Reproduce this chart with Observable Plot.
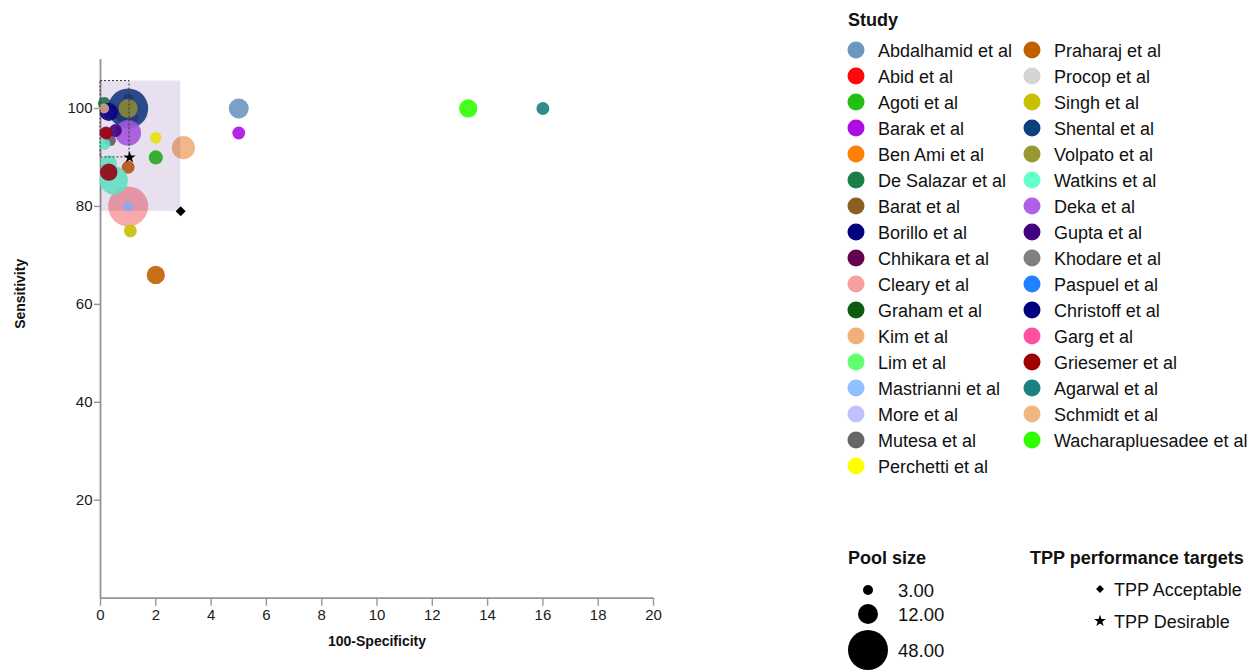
<!DOCTYPE html>
<html>
<head>
<meta charset="utf-8">
<script src="https://cdn.jsdelivr.net/npm/d3@7"></script>
<script src="https://cdn.jsdelivr.net/npm/@observablehq/plot@0.6"></script>
<style>
  body { margin: 0; background: #fff; font-family: "Liberation Sans", Arial, sans-serif; }
  #wrap { position: relative; width: 1259px; height: 671px; overflow: hidden; background: #fff; }
  #chart { position: absolute; left: 0; top: 0; }
  #legend { position: absolute; left: 0; top: 0; pointer-events: none; }
</style>
</head>
<body>
<div id="wrap"><div id="chart"></div><svg id="legend" width="1259" height="671"></svg></div>
<script>
// ---------- Data ----------
const studies = [
  "Abdalhamid et al", "Abid et al", "Agoti et al", "Barak et al", "Ben Ami et al",
  "De Salazar et al", "Barat et al", "Borillo et al", "Chhikara et al", "Cleary et al",
  "Graham et al", "Kim et al", "Lim et al", "Mastrianni et al", "More et al",
  "Mutesa et al", "Perchetti et al", "Praharaj et al", "Procop et al", "Singh et al",
  "Shental et al", "Volpato et al", "Watkins et al", "Deka et al", "Gupta et al",
  "Khodare et al", "Paspuel et al", "Christoff et al", "Garg et al", "Griesemer et al",
  "Agarwal et al", "Schmidt et al", "Wacharapluesadee et al"
];
const studyColors = [
  "#6a96c0", "#ff0a0a", "#22c010", "#ac0ee2", "#ff8000",
  "#1a8048", "#8c6020", "#000080", "#660050", "#f8a0a0",
  "#0e5a0e", "#f0b078", "#60ff70", "#90c0ff", "#c0c0ff",
  "#666666", "#ffff00", "#c06000", "#d4d4d4", "#c8c000",
  "#0e4080", "#989830", "#66ffcc", "#b060e8", "#400080",
  "#808080", "#2080ff", "#000080", "#ff50a0", "#a00000",
  "#1a8080", "#f0b880", "#30ff00"
];

// one entry per plotted study result (100-specificity, sensitivity, pool size)
const pointStudy = [
  "Abdalhamid et al", "Abid et al", "Agoti et al", "Barak et al", "Ben Ami et al",
  "De Salazar et al", "Barat et al", "Borillo et al", "Chhikara et al", "Cleary et al",
  "Graham et al", "Kim et al", "Lim et al", "Mastrianni et al", "More et al",
  "Mutesa et al", "Perchetti et al", "Praharaj et al", "Praharaj et al", "Procop et al",
  "Singh et al", "Shental et al", "Volpato et al", "Watkins et al", "Watkins et al",
  "Watkins et al", "Deka et al", "Gupta et al", "Khodare et al", "Paspuel et al",
  "Christoff et al", "Garg et al", "Griesemer et al", "Griesemer et al", "Agarwal et al",
  "Schmidt et al", "Wacharapluesadee et al"
];
const pointFPR = [
  5, 1, 2, 5, 0.7,
  0.14, 1.2, 0.6, 1, 1,
  0.8, 3, 1.3, 1, 0.9,
  0.35, 2, 1, 2, 1.1,
  1.08, 1, 1, 0.15, 0.3,
  0.48, 1, 0.54, 0.3, 0.25,
  0.3, 0.2, 0.2, 0.3, 16,
  0.13, 13.3
];
const pointSens = [
  100, 100, 90, 95, 100,
  101, 98, 99, 102, 80,
  98, 92, 100, 80, 101,
  93.5, 94, 88, 66, 99,
  75, 100, 100, 92.7, 88.8,
  85.3, 95, 95.5, 99, 99.5,
  99.3, 95, 95, 87, 100,
  100, 100
];
const pointPool = [
  12, 3, 6, 5, 3,
  5, 3, 4, 3, 48,
  3, 16, 3, 3, 3,
  4, 4, 5, 10, 3,
  5, 48, 11, 4, 8,
  24, 20, 5, 3, 3,
  10, 3, 5, 9, 5,
  3, 10
];

// TPP performance targets (100-specificity, sensitivity)
const tppLabels = ["TPP Acceptable", "TPP Desirable"];
const tppFPR = [2.9, 1.05];
const tppSens = [79, 90];
const tppRegionTop = 105.6;

const xTicks = [0, 2, 4, 6, 8, 10, 12, 14, 16, 18, 20];
const yTicks = [20, 40, 60, 80, 100];
const poolLegendValues = [3, 12, 48];
const poolLegendLabels = ["3.00", "12.00", "48.00"];

// ---------- Chart ----------
const FONT = '"Liberation Sans", Arial, sans-serif';
const AXIS = "#959595";
const rDomain = [0, 48], rRange = [0, 20];

const points = pointStudy.map((s, i) => ({study: s, fpr: pointFPR[i], sens: pointSens[i], pool: pointPool[i]}));
const targets = tppLabels.map((t, i) => ({label: t, fpr: tppFPR[i], sens: tppSens[i]}));
const acceptRegion = [{x1: 0, x2: tppFPR[0], y1: tppSens[0], y2: tppRegionTop}];
const desireRegion = [{x1: 0, x2: tppFPR[1], y1: tppSens[1], y2: tppRegionTop}];

const plot = Plot.plot({
  width: 680,
  height: 671,
  marginLeft: 100,
  marginRight: 27,
  marginTop: 59,
  marginBottom: 73.3,
  style: {fontFamily: FONT, fontSize: "15px", color: "#222", background: "transparent"},
  x: {domain: [0, 20]},
  y: {domain: [0, 110]},
  r: {type: "sqrt", domain: rDomain, range: rRange},
  color: {domain: studies, range: studyColors},
  marks: [
    Plot.axisX({ticks: xTicks, tickSize: 8, tickPadding: 3, stroke: AXIS, strokeWidth: 1.4, fill: "#1a1a1a", fontSize: 15, label: null}),
    Plot.axisY({ticks: yTicks, tickSize: 6, tickPadding: 2, stroke: AXIS, strokeWidth: 1.4, fill: "#1a1a1a", fontSize: 15, label: null}),
    Plot.ruleX([0], {y1: 0, y2: 110, stroke: AXIS, strokeWidth: 1.8}),
    Plot.ruleY([0], {x1: 0, x2: 20, stroke: AXIS, strokeWidth: 1.8}),
    Plot.dot(points, {x: "fpr", y: "sens", r: "pool", fill: "study", fillOpacity: 0.9, sort: null}),
    Plot.rect(acceptRegion, {x1: "x1", x2: "x2", y1: "y1", y2: "y2", fill: "#501080", fillOpacity: 0.13}),
    Plot.rect(desireRegion, {x1: "x1", x2: "x2", y1: "y1", y2: "y2", fill: "none", stroke: "#333", strokeWidth: 1, strokeDasharray: "2,2"}),
    Plot.dot([targets[0]], {x: "fpr", y: "sens", symbol: "diamond2", r: 4.5, fill: "black", stroke: "none"}),
    Plot.dot([targets[1]], {x: "fpr", y: "sens", symbol: "star", r: 3.8, fill: "black", stroke: "none"}),
    Plot.text(["100-Specificity"], {frameAnchor: "bottom", dy: 48, fontWeight: "bold", fontSize: 14, fill: "#111"}),
    Plot.text(["Sensitivity"], {frameAnchor: "left", dx: -80, rotate: -90, fontWeight: "bold", fontSize: 14, fill: "#111"})
  ]
});
document.getElementById("chart").appendChild(plot);

// ---------- Legends ----------
const lg = d3.select("#legend").style("font-family", FONT);
const rScale = d3.scaleSqrt().domain(rDomain).range(rRange);

lg.append("text").attr("x", 848).attr("y", 20).attr("dominant-baseline", "central")
  .attr("font-size", 18).attr("font-weight", "bold").attr("fill", "#111").text("Study");

const perCol = 17;
studies.forEach((s, i) => {
  const col = Math.floor(i / perCol), row = i % perCol;
  const cx = col === 0 ? 856 : 1032;
  const cy = 50 + 26 * row;
  lg.append("circle").attr("cx", cx).attr("cy", cy).attr("r", 8.5).attr("fill", studyColors[i]);
  lg.append("text").attr("x", cx + 22).attr("y", cy + 1).attr("dominant-baseline", "central")
    .attr("font-size", 18).attr("fill", "#111").text(s);
});

lg.append("text").attr("x", 848).attr("y", 558).attr("dominant-baseline", "central")
  .attr("font-size", 18).attr("font-weight", "bold").attr("fill", "#111").text("Pool size");
const poolY = [590, 614, 650];
poolLegendValues.forEach((v, i) => {
  lg.append("circle").attr("cx", 868).attr("cy", poolY[i]).attr("r", rScale(v)).attr("fill", "#000");
  lg.append("text").attr("x", 898).attr("y", poolY[i]).attr("dominant-baseline", "central")
    .attr("font-size", 18.5).attr("fill", "#111").text(poolLegendLabels[i]);
});

lg.append("text").attr("x", 1030).attr("y", 558).attr("dominant-baseline", "central")
  .attr("font-size", 18).attr("font-weight", "bold").attr("fill", "#111").text("TPP performance targets");
const tppSymbols = [d3.symbolDiamond2, d3.symbolStar];
const tppSizes = [40, 44];
const tppY = [589, 621];
tppLabels.forEach((t, i) => {
  lg.append("path").attr("transform", `translate(1100,${tppY[i]})`)
    .attr("d", d3.symbol(tppSymbols[i], tppSizes[i])()).attr("fill", "#000");
  lg.append("text").attr("x", 1114).attr("y", tppY[i] + 1).attr("dominant-baseline", "central")
    .attr("font-size", 18).attr("fill", "#111").text(t);
});
</script>
</body>
</html>
